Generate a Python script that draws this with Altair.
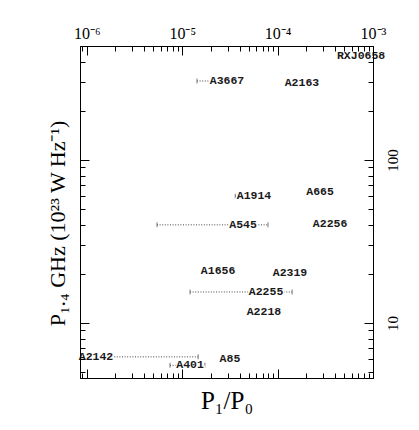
import altair as alt
import pandas as pd

# cluster labels plotted at (P1/P0, P_1.4GHz)
names = ["RXJ0658", "A3667", "A2163", "A1914", "A665", "A545", "A2256",
         "A1656", "A2319", "A2255", "A2218", "A2142", "A401", "A85"]
p_ratio = [7.5e-4, 2.95e-5, 1.80e-4, 5.66e-5, 2.79e-4, 4.35e-5, 3.55e-4,
           2.38e-5, 1.35e-4, 7.57e-5, 7.2e-5, 1.25e-6, 1.21e-5, 3.17e-5]
power = [434, 305, 296, 60, 63.5, 40, 40.5, 20.8, 20.2, 15.5, 11.7, 6.2, 5.5, 6.0]

# horizontal ranges (dotted) on P1/P0
range_names = ["A3667", "A1914", "A545", "A2255", "A2142", "A401"]
range_lo = [1.43e-5, 3.6e-5, 5.45e-6, 1.21e-5, 1.25e-6, 7.46e-6]
range_hi = [2.95e-5, 5.66e-5, 7.94e-5, 1.42e-4, 1.47e-5, 1.73e-5]

# axis ticks
x_major = [1e-6, 1e-5, 1e-4, 1e-3]
x_major_labels = ["10⁻⁶", "10⁻⁵", "10⁻⁴", "10⁻³"]
y_major = [10, 100]
y_major_labels = ["10", "100"]
mantissas = [2, 3, 4, 5, 6, 7, 8, 9]
x_minor = [9e-7] + [m * d for d in [1e-6, 1e-5, 1e-4] for m in mantissas]
y_minor = [5, 6, 7, 8, 9] + [m * 10 for m in mantissas] + [200, 300, 400]
x_vals = sorted(x_major + x_minor)
y_vals = sorted(y_major + y_minor)

df = pd.DataFrame({"name": names, "ratio": p_ratio, "power": power})
pmap = dict(zip(names, power))
rdf = pd.DataFrame({"name": range_names, "lo": range_lo, "hi": range_hi,
                    "power": [pmap[n] for n in range_names]})

x_scale = alt.Scale(type="log", domain=[8.5e-7, 1e-3], nice=False)
y_scale = alt.Scale(type="log", domain=[4.6, 500], nice=False)

major_test = "abs(log(datum.value)/LN10 - round(log(datum.value)/LN10)) < 0.001"
tick_size = {"condition": {"test": major_test, "value": -9}, "value": -5}


def lab_expr(vals, labs):
    s = "''"
    for v, l in reversed(list(zip(vals, labs))):
        s = f"datum.value == {v!r} ? '{l}' : ({s})"
    return s


common = dict(grid=False, domainColor="black", tickColor="black", labelColor="black",
              titleColor="black", zindex=1, tickWidth=1, domainWidth=1)

x_top = alt.Axis(orient="top", values=x_vals, labelExpr=lab_expr(x_major, x_major_labels),
                 tickSize=tick_size, labelPadding=14, labelFont="Liberation Serif",
                 labelFontSize=16, labelOverlap=False, labelFlush=False, title=None, **common)
x_bottom = alt.Axis(orient="bottom", values=x_vals, labels=False, tickSize=tick_size,
                    title="P₁/P₀", titleFont="Liberation Serif", titleFontSize=25,
                    titleFontWeight="normal", titlePadding=10, **common)
y_right = alt.Axis(orient="right", values=y_vals, labelExpr=lab_expr(y_major, y_major_labels),
                   tickSize=tick_size, labelPadding=21, labelFont="Liberation Serif",
                   labelFontSize=15, labelAngle=270, labelAlign="center", labelBaseline="top",
                   labelOverlap=False, labelFlush=False, title=None, **common)
y_left = alt.Axis(orient="left", values=y_vals, labels=False, tickSize=tick_size,
                  title="P₁.₄ GHz (10²³ W Hz⁻¹)", titleFont="Liberation Serif",
                  titleFontSize=22, titleFontWeight="normal", titlePadding=10,
                  titleY=177, **common)

rules = alt.Chart(rdf).mark_rule(strokeDash=[1, 1.6], strokeWidth=1, color="#444").encode(
    x=alt.X("lo:Q", scale=x_scale, axis=x_bottom),
    x2="hi:Q",
    y=alt.Y("power:Q", scale=y_scale, axis=y_left),
)

caps = alt.Chart(rdf).transform_fold(["lo", "hi"], as_=["end", "pos"]).mark_tick(
    orient="vertical", size=5, thickness=1, color="#444").encode(
    x=alt.X("pos:Q", scale=x_scale, axis=None),
    y=alt.Y("power:Q", scale=y_scale, axis=None),
)

halo = alt.Chart(df).mark_text(font="Liberation Mono", fontSize=11.5, fontWeight="bold",
                               stroke="white", strokeWidth=3, fill="white",
                               baseline="middle").encode(
    x=alt.X("ratio:Q", scale=x_scale, axis=None),
    y=alt.Y("power:Q", scale=y_scale, axis=None),
    text="name:N",
)

labels = alt.Chart(df).mark_text(font="Liberation Mono", fontSize=11.5, fontWeight="bold",
                                 color="#1a1a1a", baseline="middle").encode(
    x=alt.X("ratio:Q", scale=x_scale, axis=x_top),
    y=alt.Y("power:Q", scale=y_scale, axis=y_right),
    text="name:N",
)

chart = alt.layer(rules, caps, halo, labels).resolve_scale(
    x="independent", y="independent").resolve_axis(
    x="independent", y="independent").properties(
    width=293, height=332,
    autosize=alt.AutoSizeParams(type="none"),
    padding={"left": 80, "top": 46, "right": 46, "bottom": 52},
    background="white",
).configure_view(stroke="black", strokeWidth=1)

chart.save("out.html", embed_options={"renderer": "svg", "actions": False})
